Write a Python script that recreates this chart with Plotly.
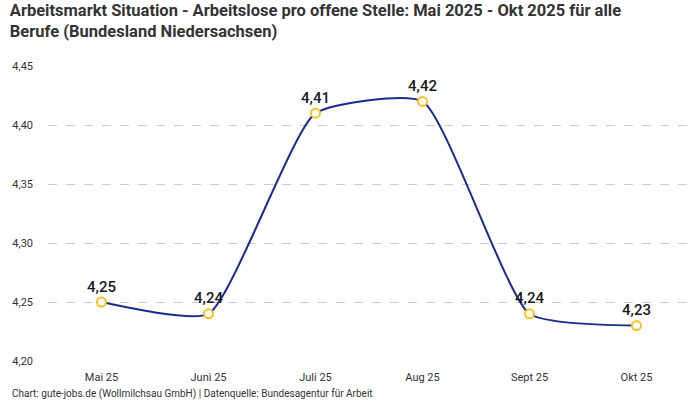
import plotly.graph_objects as go

months = ["Mai 25", "Juni 25", "Juli 25", "Aug 25", "Sept 25", "Okt 25"]
values = [4.25, 4.24, 4.41, 4.42, 4.24, 4.23]
labels = ["4,25", "4,24", "4,41", "4,42", "4,24", "4,23"]
y_ticks = [4.20, 4.25, 4.30, 4.35, 4.40, 4.45]

fig = go.Figure()
fig.add_trace(go.Scatter(
    x=months, y=values,
    mode="lines+markers+text",
    line=dict(color="#1a2b8c", width=2, shape="spline", smoothing=0.5),
    marker=dict(size=9, color="white", line=dict(color="#f7c31e", width=2)),
    text=labels, textposition="top center",
    textfont=dict(family="Roboto", size=15, color="#1a1a1a", weight=500),
    cliponaxis=False,
    hoverinfo="skip",
))

fig.update_layout(
    width=700, height=400,
    margin=dict(l=48, r=10, t=66, b=39),
    paper_bgcolor="white", plot_bgcolor="white",
    separators=",.",
    showlegend=False,
    font=dict(family="Roboto", color="#333333", size=11),
    title=dict(
        text="Arbeitsmarkt Situation - Arbeitslose pro offene Stelle: Mai 2025 - Okt 2025 für alle<br>Berufe (Bundesland Niedersachsen)",
        x=0.014, xanchor="left", y=0.961, yanchor="top",
        font=dict(family="Roboto", size=16.5, color="#333333", weight="bold"),
    ),
    xaxis=dict(
        type="category", range=[-0.5, 5.5],
        showgrid=False, showline=False, zeroline=False,
        tickfont=dict(size=11, color="#333333"),
        ticklabelstandoff=8,
    ),
    yaxis=dict(
        range=[4.20, 4.45], tickvals=y_ticks, tickformat=".2f",
        showgrid=True, gridcolor="#cccccc", griddash="dash", gridwidth=1,
        zeroline=False, showline=False,
        tickfont=dict(size=11, color="#333333"),
        ticklabelstandoff=14,
    ),
    annotations=[dict(
        text="Chart: gute-jobs.de (Wollmilchsau GmbH) | Datenquelle: Bundesagentur für Arbeit",
        xref="paper", yref="paper", x=-0.059, y=-0.085, xanchor="left", yanchor="top",
        showarrow=False, font=dict(size=10, color="#333333"),
    )],
)

fig.write_html("out.html", config={"displayModeBar": False},
               post_script="document.body.style.margin='0';document.body.style.padding='0';")
